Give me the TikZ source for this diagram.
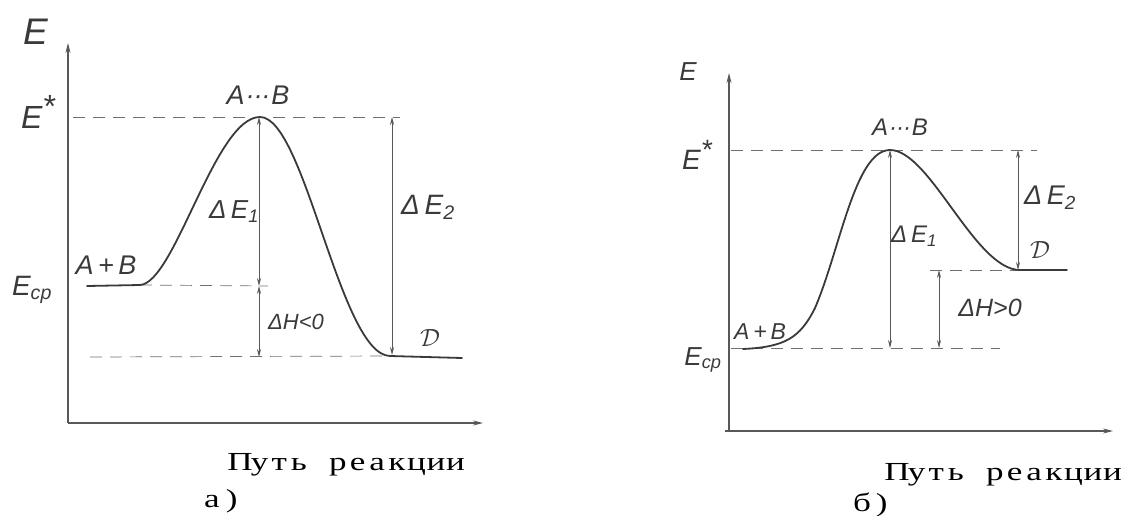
\documentclass[tikz,border=0pt]{standalone}
\usepackage{fontspec}
\usepackage{graphicx}
\setmainfont{Liberation Sans}
\newfontfamily\capfont{Liberation Serif}
\newcommand\mc[1]{\makebox[19.6pt]{\scalebox{1.35}[1]{#1}}}
\newcommand\mgap{\hspace*{19.6pt}}
\usetikzlibrary{arrows.meta}
\definecolor{ink}{HTML}{3A3A3A}
\definecolor{dashink}{HTML}{707070}
\begin{document}
\begin{tikzpicture}[x=1pt,y=-1pt,
  lbl/.style={font=\fontsize{#1}{#1}\selectfont\itshape, text=ink, inner sep=0pt},
  lbl/.default=24,
  axis/.style={draw=ink!85, line width=1.1pt, -{Stealth[length=10pt,width=5pt]}},
  curve/.style={draw=ink, line width=1.8pt, line cap=round},
  level/.style={draw=dashink, line width=0.7pt, dash pattern=on 12pt off 8pt},
  dimarr/.style={draw=ink!85, line width=0.7pt, {Stealth[length=8pt,width=4pt]}-{Stealth[length=8pt,width=4pt]}},
  capt/.style={font=\capfont\fontsize{26}{26}\selectfont, text=black, inner sep=0pt, anchor=base west}]
\useasboundingbox (0,0) rectangle (1121,516);
% ---------------- left diagram (a) ----------------
\coordinate (lO) at (68,423);
\coordinate (lYt) at (68,43);
\coordinate (lXt) at (483,423);
\coordinate (lR0) at (87,286);
\coordinate (lR1) at (140,285);
\coordinate (lPk) at (260,117);
\coordinate (lP0) at (390,356);
\coordinate (lP1) at (462,358);
\coordinate (lEsA) at (73,117);
\coordinate (lEsB) at (400,117);
\coordinate (lRdB) at (268,286);
\coordinate (lPdA) at (90,357);
\coordinate (lA1) at (259,117);
\coordinate (lA2) at (259,286);
\coordinate (lA3) at (259,357);
\coordinate (lB1) at (392,117);
\coordinate (lB2) at (392,355);
\draw[axis] (lO) -- (lYt);
\draw[axis] (lO) -- (lXt);
\draw[level] (lEsA) -- (lEsB);
\draw[level] (lR1) -- (lRdB);
\draw[level] (lPdA) -- (lP0);
\draw[curve] (lR0) -- (lR1) .. controls (175,283) and (215,117) .. (lPk)
  .. controls (305,117) and (340,355) .. (lP0) -- (lP1);
\draw[dimarr] (lA1) -- (lA2);
\draw[dimarr] (lA2) -- (lA3);
\draw[dimarr] (lB1) -- (lB2);
\node[lbl=37] (lE) at (36,32) {E};
\node[lbl=32] (lEs) at (38,112) {E\raisebox{0.35em}{*}};
\node[lbl=27] (lAB) at (258,95) {A\kern1pt\textperiodcentered\kern-1pt\textperiodcentered\kern-1pt\textperiodcentered\kern1pt B};
\node[lbl=26] (ldE1) at (234,212) {Δ\,E\textsubscript{1}};
\node[lbl=28] (ldE2) at (428,207) {Δ\,E\textsubscript{2}};
\node[lbl=27] (lApB) at (106,265) {A\,+\,B};
\node[lbl=28] (lEcp) at (32,290) {E\textsubscript{ср}};
\node[lbl=22] (ldH) at (296,322) {ΔH<0};
\node[lbl=26] (lD) at (430,338) {$\mathcal{D}$};
\node[capt] (lPath) at (230,470) {\mc{П}\mc{у}\mc{т}\mc{ь}\mgap\mc{р}\mc{е}\mc{а}\mc{к}\mc{ц}\mc{и}\mc{и}};
\node[capt] (la) at (202,507) {\mc{а}\mc{)}};
% ---------------- right diagram (b) ----------------
\coordinate (rO) at (729,430);
\coordinate (rYt) at (729,73);
\coordinate (rXs) at (725,431);
\coordinate (rXt) at (1113,431);
\coordinate (rR0) at (743,349);
\coordinate (rM) at (815,308);
\coordinate (rPk) at (890,150);
\coordinate (rP0) at (1020,270);
\coordinate (rP1) at (1067,270);
\coordinate (rEsA) at (731,150);
\coordinate (rEsB) at (1037,150);
\coordinate (rRdA) at (731,348);
\coordinate (rRdB) at (1000,348);
\coordinate (rPdA) at (930,270);
\coordinate (rA1) at (890,150);
\coordinate (rA2) at (890,348);
\coordinate (rB1) at (1018,150);
\coordinate (rB2) at (1018,270);
\coordinate (rC1) at (939,270);
\coordinate (rC2) at (939,348);
\draw[axis] (rO) -- (rYt);
\draw[axis] (rXs) -- (rXt);
\draw[level] (rEsA) -- (rEsB);
\draw[level] (rRdA) -- (rRdB);
\draw[level] (rPdA) -- (rP0);
\draw[curve] (rR0) .. controls (785,347) and (800,338) .. (rM)
  .. controls (840,250) and (855,150) .. (rPk)
  .. controls (930,150) and (975,270) .. (rP0) -- (rP1);
\draw[dimarr] (rA1) -- (rA2);
\draw[dimarr] (rB1) -- (rB2);
\draw[dimarr] (rC1) -- (rC2);
\node[lbl=26] (rE) at (688,72) {E};
\node[lbl=28] (rEs) at (697,155) {E\raisebox{0.35em}{*}};
\node[lbl=24] (rAB) at (900,127) {A\kern1pt\textperiodcentered\kern-1pt\textperiodcentered\kern-1pt\textperiodcentered\kern1pt B};
\node[lbl=24] (rdE1) at (914,236) {Δ\,E\textsubscript{1}};
\node[lbl=27] (rdE2) at (1050,198) {Δ\,E\textsubscript{2}};
\node[lbl=23] (rApB) at (760,332) {A\,+\,B};
\node[lbl=26] (rEcp) at (703,360) {E\textsubscript{ср}};
\node[lbl=25] (rdH) at (990,308) {ΔH>0};
\node[lbl=26] (rD) at (1040,250) {$\mathcal{D}$};
\node[capt] (rPath) at (887,480) {\mc{П}\mc{у}\mc{т}\mc{ь}\mgap\mc{р}\mc{е}\mc{а}\mc{к}\mc{ц}\mc{и}\mc{и}};
\node[capt] (rb) at (852,511) {\mc{б}\mc{)}};
\end{tikzpicture}
\end{document}
